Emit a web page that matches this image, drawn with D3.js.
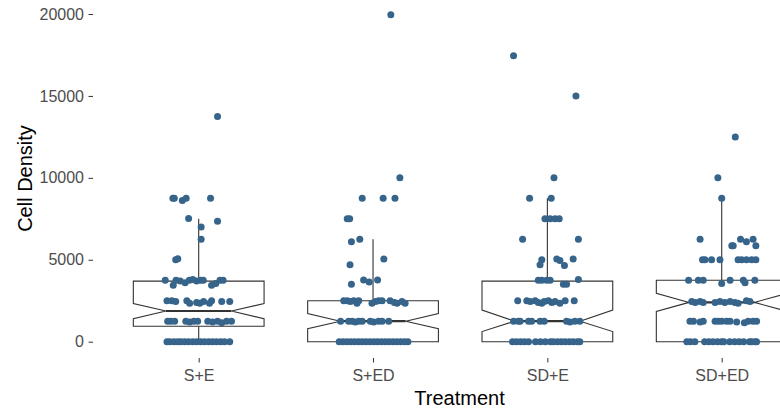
<!DOCTYPE html>
<html>
<head>
<meta charset="utf-8">
<script src="https://cdn.jsdelivr.net/npm/d3@7"></script>
<style>
  body { margin: 0; background: #fff; }
  svg { font-family: "Liberation Sans", Arial, sans-serif; }
</style>
</head>
<body>
<svg id="chart" width="780" height="411"></svg>
<script>
// categories and y ticks
const treatments = ["S+E", "S+ED", "SD+E", "SD+ED"];
const yTicks = [0, 5000, 10000, 15000, 20000];

// box statistics
const q1 = [940, 0, 0, 0];
const medians = [1875, 1250, 1250, 2400];
const q3 = [3700, 2500, 3700, 3750];
const whiskerLow = [0, 0, 0, 0];
const whiskerHigh = [7500, 6250, 8750, 8750];
const notchLow = [1400, 800, 620, 1850];
const notchHigh = [2330, 1720, 1930, 2950];

// jittered observations: [jitter (-1..1 of jitter width), cell density]
const pointsSE = [
  [0.54, 13750],
  [-0.74, 8750], [-0.70, 8750], [-0.47, 8620], [-0.36, 8750], [0.34, 8750],
  [-0.29, 7520], [0.54, 7350], [0.07, 7000], [0.07, 6250],
  [-0.66, 5000], [-0.60, 5060],
  [-0.96, 3750], [-0.73, 3450], [-0.65, 3750], [-0.53, 3700], [-0.39, 3600], [-0.27, 3750], [-0.17, 3800],
  [-0.06, 3700], [0.06, 3750], [0.13, 3750], [0.37, 3450], [0.49, 3550], [0.61, 3750], [0.70, 3750],
  [-0.91, 2500], [-0.77, 2500], [-0.66, 2450], [-0.34, 2500], [-0.26, 2350], [-0.06, 2400],
  [0.03, 2350], [0.14, 2450], [0.31, 2350], [0.37, 2500], [0.66, 2450], [0.89, 2450],
  [-0.89, 1250], [-0.80, 1250], [-0.69, 1250], [-0.37, 1250], [-0.26, 1200], [-0.14, 1250], [-0.03, 1250],
  [0.26, 1250], [0.40, 1200], [0.54, 1250], [0.66, 1150], [0.80, 1250], [0.94, 1250],
  [-0.91, 0], [-0.83, 0], [-0.71, 0], [-0.60, 0], [-0.51, 0], [-0.40, 0], [-0.29, 0], [-0.17, 0], [-0.06, 0],
  [0.06, 0], [0.17, 0], [0.29, 0], [0.40, 0], [0.51, 0], [0.63, 0], [0.74, 0], [0.89, 0]
];
const pointsSED = [
  [0.51, 19950], [0.77, 10000],
  [-0.31, 8750], [0.29, 8750], [0.63, 8750],
  [-0.74, 7500], [-0.67, 7500],
  [-0.62, 6100], [-0.38, 6250], [0.31, 5050], [-0.66, 4700],
  [-0.27, 3770], [-0.11, 3650], [0.13, 3770], [-0.62, 3500],
  [-0.84, 2500], [-0.74, 2500], [-0.65, 2450], [-0.55, 2500], [-0.46, 2350], [-0.41, 2500],
  [-0.03, 2350], [0.07, 2450], [0.16, 2500], [0.26, 2500],
  [0.49, 2500], [0.61, 2400], [0.69, 2350], [0.83, 2450], [0.92, 2350],
  [-0.93, 1250], [-0.70, 1250], [-0.60, 1250], [-0.51, 1200], [-0.41, 1250], [-0.31, 1250],
  [-0.08, 1250], [0.02, 1200], [0.16, 1250], [0.26, 1250], [0.45, 1250],
  [-0.97, 0], [-0.86, 0], [-0.75, 0], [-0.64, 0], [-0.53, 0], [-0.42, 0], [-0.31, 0], [-0.20, 0], [-0.09, 0],
  [0.02, 0], [0.13, 0], [0.24, 0], [0.35, 0], [0.46, 0], [0.57, 0], [0.68, 0], [0.79, 0], [0.90, 0], [1.0, 0]
];
const pointsSDE = [
  [-0.97, 17450], [0.82, 15000], [0.19, 10000],
  [-0.51, 8750], [0.11, 8750],
  [-0.07, 7500], [0.08, 7500], [0.22, 7500], [0.34, 7500],
  [-0.71, 6250], [0.89, 6250],
  [-0.16, 5000], [-0.21, 4700], [0.27, 5050], [0.36, 4950], [0.49, 4650], [0.74, 5050],
  [-0.26, 3750], [-0.16, 3750], [-0.02, 3750], [0.08, 3750], [0.46, 3500], [0.55, 3500], [0.89, 3800],
  [-0.85, 2500], [-0.59, 2500], [-0.49, 2450], [-0.35, 2500], [-0.26, 2400], [-0.16, 2350], [-0.09, 2450],
  [0.03, 2500], [0.13, 2400], [0.22, 2450], [0.36, 2350], [0.51, 2500], [0.77, 2500],
  [-0.97, 1250], [-0.83, 1250], [-0.78, 1250], [-0.54, 1250], [-0.45, 1250], [-0.21, 1250], [-0.09, 1250],
  [0.55, 1250], [0.65, 1200], [0.79, 1250], [0.93, 1250],
  [-1.0, 0], [-0.89, 0], [-0.77, 0], [-0.66, 0], [-0.54, 0], [-0.34, 0], [-0.20, 0], [-0.06, 0], [0.09, 0],
  [0.17, 0], [0.29, 0], [0.40, 0], [0.51, 0], [0.63, 0], [0.74, 0], [0.86, 0], [0.93, 0]
];
const pointsSDED = [
  [0.39, 12500], [-0.11, 10000], [0, 8750],
  [-0.62, 6250], [0.54, 6250], [0.71, 6100], [0.90, 6250],
  [0.29, 5850], [0.33, 5850], [0.98, 5850],
  [-0.55, 5000], [-0.48, 5000], [-0.29, 5000], [-0.05, 5000], [0.47, 5000], [0.57, 5000], [0.71, 5000], [0.86, 5000], [0.98, 5000],
  [-0.95, 3750], [-0.67, 3750], [-0.53, 3750], [0, 3550], [0.24, 3750], [0.62, 3750], [0.67, 3600], [0.95, 3750],
  [-0.86, 2450], [-0.76, 2400], [-0.62, 2450], [-0.53, 2400], [-0.19, 2400], [-0.05, 2450],
  [0.09, 2400], [0.24, 2450], [0.38, 2400], [0.47, 2350], [0.71, 2500], [0.81, 2450],
  [-0.91, 1250], [-0.81, 1250], [-0.62, 1200], [-0.53, 1250], [-0.19, 1250], [-0.10, 1250], [0, 1250],
  [0.14, 1250], [0.24, 1250], [0.43, 1200], [0.65, 1150], [0.76, 1250], [0.90, 1250], [1.0, 1250],
  [-1.0, 0], [-0.90, 0], [-0.77, 0], [-0.49, 0], [-0.37, 0], [-0.25, 0], [-0.12, 0], [0, 0],
  [0.06, 0], [0.23, 0], [0.37, 0], [0.50, 0], [0.63, 0], [0.80, 0], [0.86, 0], [0.96, 0], [1.0, 0]
];
const groups = [pointsSE, pointsSED, pointsSDE, pointsSDED];

const svg = d3.select("#chart");
const panel = { left: 93, top: -1, bottom: 358 };

const x = d3.scalePoint().domain(treatments).range([198.7, 721.7]);
const y = d3.scaleLinear().domain([0, 20000]).range([341.7, 14]);
const step = x.step();
const halfBox = step * 0.75 / 2;
const jitterWidth = 0.2 * step;

// axes
const yAxis = d3.axisLeft(y).tickValues(yTicks).tickSize(4.5).tickPadding(4.5).tickFormat(d3.format("d"));
const gy = svg.append("g").attr("transform", "translate(" + panel.left + ",0)").call(yAxis);
const xAxis = d3.axisBottom(x).tickSize(4.5).tickPadding(7);
const gx = svg.append("g").attr("transform", "translate(0," + panel.bottom + ")").call(xAxis);
[gx, gy].forEach(g => {
  g.select(".domain").remove();
  g.selectAll(".tick line").attr("stroke", "#333333").attr("stroke-width", 1);
  g.selectAll(".tick text").attr("fill", "#4D4D4D").style("font-size", "16px")
    .style("font-family", "Liberation Sans, Arial, sans-serif");
});

// notched boxes
const boxes = svg.append("g");
treatments.forEach((t, i) => {
  const cx = x(t);
  const xl = cx - halfBox, xr = cx + halfBox, inset = halfBox * 0.5;
  const pts = [
    [xl, y(q3[i])], [xl, y(notchHigh[i])], [xl + inset, y(medians[i])], [xl, y(notchLow[i])], [xl, y(q1[i])],
    [xr, y(q1[i])], [xr, y(notchLow[i])], [xr - inset, y(medians[i])], [xr, y(notchHigh[i])], [xr, y(q3[i])]
  ];
  boxes.append("line")
    .attr("x1", cx).attr("x2", cx).attr("y1", y(q3[i])).attr("y2", y(whiskerHigh[i]))
    .attr("stroke", "#333333").attr("stroke-width", 1.1);
  boxes.append("line")
    .attr("x1", cx).attr("x2", cx).attr("y1", y(q1[i])).attr("y2", y(whiskerLow[i]))
    .attr("stroke", "#333333").attr("stroke-width", 1.1);
  boxes.append("path")
    .attr("d", d3.line()(pts) + "Z")
    .attr("fill", "white").attr("stroke", "#333333").attr("stroke-width", 1.1);
  boxes.append("line")
    .attr("x1", xl + inset).attr("x2", xr - inset).attr("y1", y(medians[i])).attr("y2", y(medians[i]))
    .attr("stroke", "#333333").attr("stroke-width", 2.2);
});

// jittered points
const dots = svg.append("g");
groups.forEach((pts, i) => {
  dots.selectAll(null).data(pts).enter().append("circle")
    .attr("cx", d => x(treatments[i]) + d[0] * jitterWidth)
    .attr("cy", d => y(d[1]))
    .attr("r", 3.5)
    .attr("fill", "#36648B");
});

// titles
svg.append("text")
  .attr("x", 459.5).attr("y", 405)
  .attr("text-anchor", "middle")
  .style("font-size", "20px")
  .text("Treatment");
svg.append("text")
  .attr("transform", "translate(31.5," + ((panel.top + panel.bottom) / 2) + ") rotate(-90)")
  .attr("text-anchor", "middle")
  .style("font-size", "20px")
  .text("Cell Density");
</script>
</body>
</html>
